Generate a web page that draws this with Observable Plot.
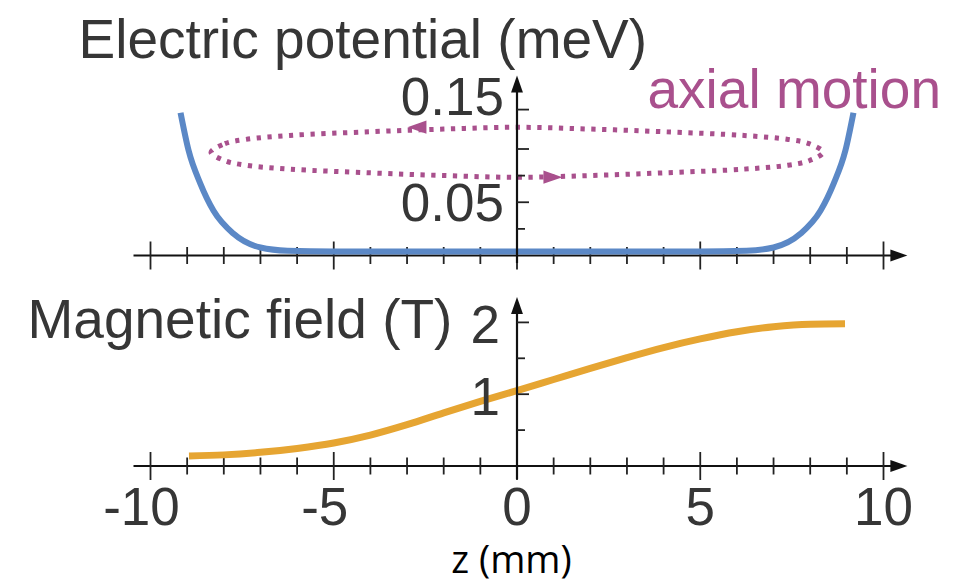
<!DOCTYPE html>
<html><head><meta charset="utf-8">
<script src="https://cdn.jsdelivr.net/npm/d3@7"></script>
<script src="https://cdn.jsdelivr.net/npm/@observablehq/plot@0.6"></script>
<style>
body{margin:0;background:#fff;}
#chart{width:964px;height:584px;overflow:hidden;background:#fff;}
#chart svg{display:block;}
</style></head><body><div id="chart"></div>
<script>
// ---- data ----
const potentialZ   = [-9.18, -8.96, -8.64, -8.28, -7.74, -7.0, -6.26, -5.0, -2.5, 0, 2.5, 5.0, 6.26, 7.0, 7.74, 8.28, 8.64, 8.96, 9.18];
const potentialMeV = [0.134, 0.0985, 0.0675, 0.042, 0.0206, 0.0075, 0.0045, 0.0038, 0.0038, 0.0038, 0.0038, 0.0038, 0.0045, 0.0075, 0.0206, 0.042, 0.0675, 0.0985, 0.134];

const fieldZ = [-8.95, -8.0, -7.0, -6.0, -5.0, -4.0, -3.0, -2.0, -1.0, 0, 1.0, 2.0, 3.0, 4.0, 5.0, 6.0, 7.0, 8.0, 8.95];
const fieldT = [0.14, 0.155, 0.19, 0.245, 0.32, 0.43, 0.575, 0.74, 0.90, 1.05, 1.205, 1.36, 1.51, 1.65, 1.77, 1.87, 1.94, 1.975, 1.98];

// dotted "axial motion" orbit, traced clockwise from the left end
const orbitZ   = [-8.35, -7.97, -7.4, -6.2, -4.0, -2.0, 0, 2.0, 4.0, 6.2, 7.4, 7.97, 8.35, 7.97, 7.4, 6.2, 4.0, 2.0, 0, -2.0, -4.0, -6.2, -7.4, -7.97];
const orbitMeV = [0.097, 0.105, 0.109, 0.1127, 0.1162, 0.1187, 0.1204, 0.1187, 0.1162, 0.1127, 0.109, 0.105, 0.097, 0.089, 0.0848, 0.0811, 0.0776, 0.0751, 0.0734, 0.0751, 0.0776, 0.0811, 0.0848, 0.089];
const orbitArrowZ   = [-2.73, 0.98];
const orbitArrowMeV = [0.1205, 0.0735];
const orbitArrowDir = [-90, 90];

const xTicks      = [-10, -9, -8, -7, -6, -5, -4, -3, -2, -1, 0, 1, 2, 3, 4, 5, 6, 7, 8, 9, 10];
const xMajorTicks = [-10, -5, 0, 5, 10];
const xTickLabels = ["-10", "-5", "0", "5", "10"];

const potTicks       = [0.025, 0.05, 0.075, 0.1, 0.137];
const potMajorTicks  = [0.05, 0.1, 0.137];
const potLabelValues = [0.05, 0.15];
const potLabels      = ["0.05", "0.15"];

const fieldTicks       = [0.5, 1, 1.5, 2];
const fieldMajorTicks  = [1, 2];
const fieldLabelValues = [1, 2];
const fieldLabels      = ["1", "2"];

const axisZ = [-10.45, 10.3];   // extent of horizontal axis lines (mm)
const axisArrowZ = 10.42;
const potAxis = [-0.0075, 0.155], potArrow = 0.161;
const fieldAxis = [-0.19, 2.2], fieldArrow = 2.235;

// ---- helpers ----
const rOf = s => Math.sqrt(s / Math.PI);
const arrowHead = {draw(c, s){ const r = rOf(s); c.moveTo(0, -r); c.lineTo(0.7*r, r); c.lineTo(-0.7*r, r); c.closePath(); }};
const vTick = {draw(c, s){ const r = rOf(s); c.moveTo(0, -r); c.lineTo(0, r); }};
const hTick = {draw(c, s){ const r = rOf(s); c.moveTo(0, 0); c.lineTo(r, 0); }};

const sans = "'Liberation Sans', Arial, Helvetica, sans-serif";
const ink = "#363636";
const axisInk = "#111";
const blue = "#5b88c6";
const orange = "#e6a532";
const magenta = "#a9508d";

const potData   = potentialZ.map((z, i) => ({z, v: potentialMeV[i]}));
const fieldData = fieldZ.map((z, i) => ({z, v: fieldT[i]}));
const orbitData = orbitZ.map((z, i) => ({z, v: orbitMeV[i]}));
const orbitArrows = orbitArrowZ.map((z, i) => ({z, v: orbitArrowMeV[i], rot: orbitArrowDir[i]}));

function axisMarks(yAxis, yArrow, yTicks, yMajor) {
  const minorX = xTicks.filter(d => !xMajorTicks.includes(d));
  const minorY = yTicks.filter(d => !yMajor.includes(d));
  return {
    base: [
      Plot.ruleY([{y: 0, x1: axisZ[0], x2: axisZ[1]}], {y: "y", x1: "x1", x2: "x2", stroke: axisInk, strokeWidth: 2.2}),
      Plot.dot(minorX, {x: d => d, y: () => 0, symbol: vTick, r: 8.5, fill: "none", stroke: "#222", strokeWidth: 1.8}),
      Plot.dot(xMajorTicks, {x: d => d, y: () => 0, symbol: vTick, r: 14, fill: "none", stroke: "#222", strokeWidth: 1.8}),
      Plot.dot([axisArrowZ], {x: d => d, y: () => 0, symbol: arrowHead, r: 8.5, rotate: 90, fill: axisInk, stroke: "none"})
    ],
    yaxis: [
      Plot.ruleX([{x: 0, y1: yAxis[0], y2: yAxis[1]}], {x: "x", y1: "y1", y2: "y2", stroke: axisInk, strokeWidth: 2.2}),
      Plot.dot(minorY, {x: () => 0, y: d => d, symbol: hTick, r: 8, fill: "none", stroke: "#222", strokeWidth: 1.8}),
      Plot.dot(yMajor, {x: () => 0, y: d => d, symbol: hTick, r: 12, fill: "none", stroke: "#222", strokeWidth: 1.8}),
      Plot.dot([yArrow], {x: () => 0, y: d => d, symbol: arrowHead, r: 8.5, fill: axisInk, stroke: "none"})
    ]
  };
}

// ---- top panel: electric potential ----
const topAxes = axisMarks(potAxis, potArrow, potTicks, potMajorTicks);
const topPlot = Plot.plot({
  width: 964, height: 280,
  marginLeft: 150, marginRight: 81, marginTop: 42, marginBottom: 25,
  x: {domain: [-10, 10], axis: null},
  y: {domain: [0, 0.2], axis: null},
  style: {background: "white", overflow: "visible"},
  marks: [
    ...topAxes.base,
    Plot.line(orbitData, {x: "z", y: "v", curve: "catmull-rom-closed", stroke: magenta, strokeWidth: 5, strokeDasharray: "4.3 6.5", strokeLinecap: "butt"}),
    Plot.dot(orbitArrows, {x: "z", y: "v", rotate: "rot", symbol: arrowHead, r: 9.5, fill: magenta, stroke: "none"}),
    Plot.line(potData, {x: "z", y: "v", curve: "monotone-x", stroke: blue, strokeWidth: 6, strokeLinecap: "butt"}),
    ...topAxes.yaxis,
    Plot.text(potLabelValues.map((v, i) => ({v, t: potLabels[i]})), {x: () => 0, y: "v", text: "t", textAnchor: "end", lineAnchor: "middle", dx: -13, dy: 2, fontSize: 53, fontFamily: sans, fill: ink}),
    Plot.text(["Electric potential (meV)"], {frameAnchor: "top-left", textAnchor: "start", lineAnchor: "bottom", dx: -72, dy: 15, fontSize: 55, fontFamily: sans, fill: ink}),
    Plot.text(["axial motion"], {frameAnchor: "top-left", textAnchor: "start", lineAnchor: "bottom", dx: 497, dy: 65, fontSize: 55, fontFamily: sans, fill: magenta})
  ]
});

// ---- bottom panel: magnetic field ----
const botAxes = axisMarks(fieldAxis, fieldArrow, fieldTicks, fieldMajorTicks);
const xLab = xMajorTicks.map((v, i) => ({v, t: xTickLabels[i]}));
const botPlot = Plot.plot({
  width: 964, height: 304,
  marginLeft: 150, marginRight: 81, marginTop: 6, marginBottom: 118.5,
  x: {domain: [-10, 10], axis: null},
  y: {domain: [0, 2.5], axis: null},
  style: {background: "white", overflow: "visible"},
  marks: [
    ...botAxes.base,
    Plot.line(fieldData, {x: "z", y: "v", curve: "monotone-x", stroke: orange, strokeWidth: 7, strokeLinecap: "butt"}),
    ...botAxes.yaxis,
    Plot.text(fieldLabelValues.map((v, i) => ({v, t: fieldLabels[i]})), {x: () => 0, y: "v", text: "t", textAnchor: "end", lineAnchor: "middle", dx: -17, dy: 4, fontSize: 53, fontFamily: sans, fill: ink}),
    Plot.text(xLab.filter(d => d.v < 0), {x: "v", y: () => 0, text: "t", textAnchor: "middle", lineAnchor: "middle", dx: -9, dy: 42, fontSize: 53, fontFamily: sans, fill: ink}),
    Plot.text(xLab.filter(d => d.v >= 0), {x: "v", y: () => 0, text: "t", textAnchor: "middle", lineAnchor: "middle", dy: 42, fontSize: 53, fontFamily: sans, fill: ink}),
    Plot.text(["Magnetic field (T)"], {frameAnchor: "top-left", textAnchor: "start", lineAnchor: "bottom", dx: -123, dy: 51, fontSize: 55, fontFamily: sans, fill: ink}),
    Plot.text(["z (mm)"], {frameAnchor: "bottom", textAnchor: "middle", lineAnchor: "bottom", dx: -5.5, dy: 107, fontSize: 38, fontFamily: "'Open Sans', 'Noto Sans', sans-serif", fill: "#000"})
  ]
});

const root = document.getElementById("chart");
root.appendChild(topPlot);
root.appendChild(botPlot);
</script>
</body></html>
